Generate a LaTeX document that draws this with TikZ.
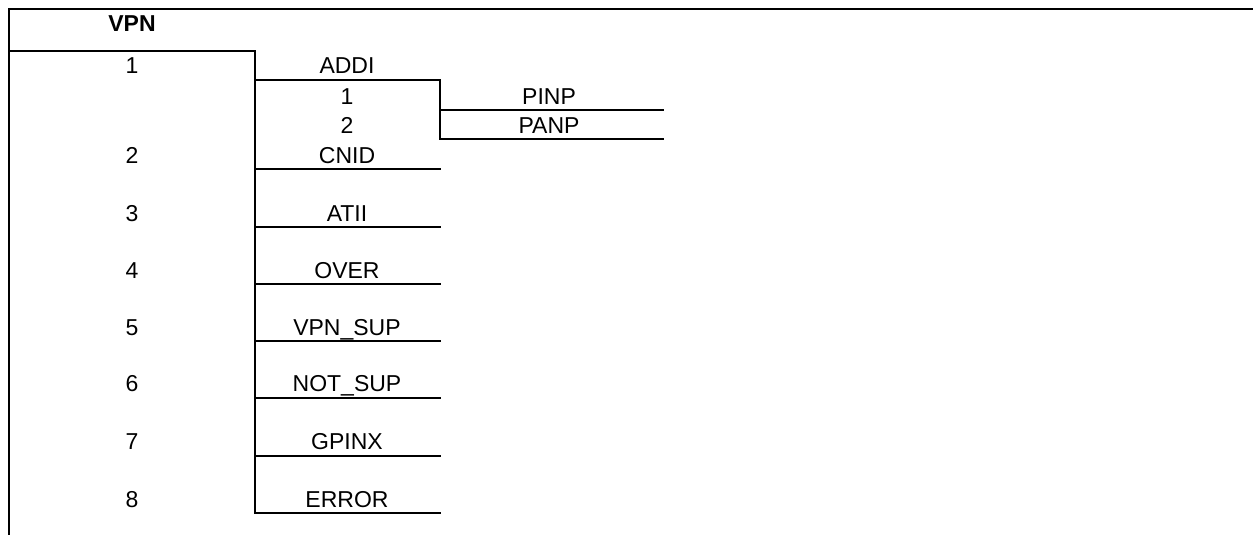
\documentclass[tikz,border=0pt]{standalone}
\usepackage{fontspec}
\setmainfont{Liberation Sans}
\begin{document}
\begin{tikzpicture}[x=1pt,y=-1pt,
  ln/.style={line width=2pt, line cap=rect},
  lbl/.style={anchor=base, inner sep=0pt, font=\fontsize{23}{27}\selectfont}]
\useasboundingbox (0,0) rectangle (1253,535);
% frame
\draw[ln] (9,535) -- (9,9) -- (1253,9);
\draw[ln] (9,51) -- (255,51) -- (255,513);
% ADDI branch
\draw[ln] (255,80) -- (440,80) -- (440,139);
\draw[ln] (440,110) -- (663,110);
\draw[ln] (440,139) -- (663,139);
% item lines
\foreach \y in {169,227,284,341,398,456,513}
  \draw[ln] (255,\y) -- (440,\y);
% texts
\node[lbl, font=\fontsize{23}{27}\selectfont\bfseries] (vpn) at (132,32) {VPN};
\node[lbl] (n1) at (132,74) {1};
\node[lbl] (addi) at (347,74) {ADDI};
\node[lbl] (s1) at (347,104) {1};
\node[lbl] (s2) at (347,133) {2};
\node[lbl] (pinp) at (549,104) {PINP};
\node[lbl] (panp) at (549,133) {PANP};
\node[lbl] (n2) at (132,163) {2};
\node[lbl] (cnid) at (347,163) {CNID};
\node[lbl] (n3) at (132,221) {3};
\node[lbl] (atii) at (347,221) {ATII};
\node[lbl] (n4) at (132,278) {4};
\node[lbl] (over) at (347,278) {OVER};
\node[lbl] (n5) at (132,335) {5};
\node[lbl] (vsup) at (347,335) {VPN\_SUP};
\node[lbl] (n6) at (132,391) {6};
\node[lbl] (nsup) at (347,391) {NOT\_SUP};
\node[lbl] (n7) at (132,449) {7};
\node[lbl] (gpinx) at (347,449) {GPINX};
\node[lbl] (n8) at (132,507) {8};
\node[lbl] (error) at (347,507) {ERROR};
\end{tikzpicture}
\end{document}
